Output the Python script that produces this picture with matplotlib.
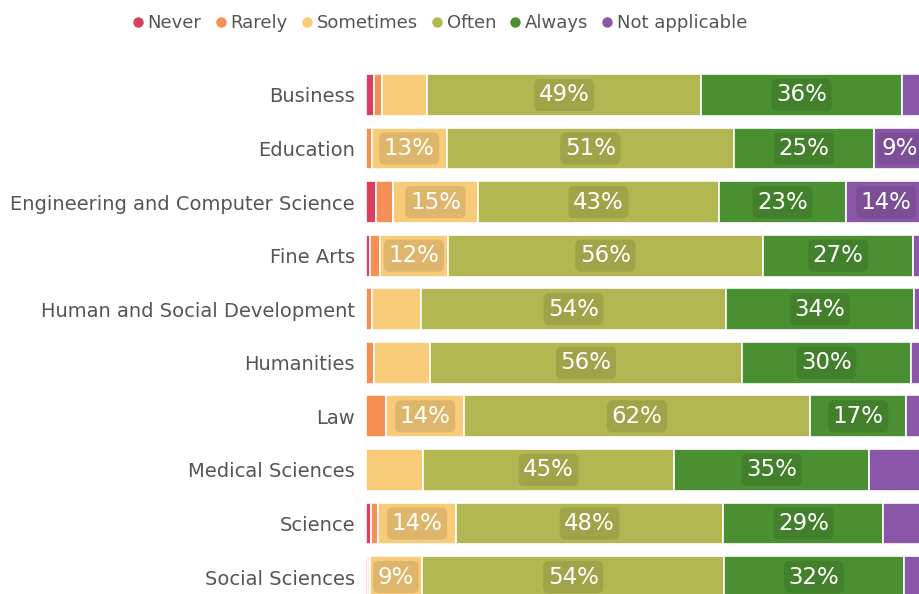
import numpy as np
import matplotlib
matplotlib.use("Agg")
import matplotlib.pyplot as plt
from matplotlib.lines import Line2D

# data (percent of respondents per faculty)
faculties = ["Business", "Education", "Engineering and Computer Science", "Fine Arts",
             "Human and Social Development", "Humanities", "Law", "Medical Sciences",
             "Science", "Social Sciences"]
answers = ["Never", "Rarely", "Sometimes", "Often", "Always", "Not applicable"]

never = [1.5, 0.0, 1.8, 0.7, 0.0, 0.0, 0.0, 0.0, 0.9, 0.4]
rarely = [1.3, 1.0, 3.0, 1.8, 1.0, 1.4, 3.6, 0.0, 1.2, 0.3]
sometimes = [8.1, 13.4, 15.2, 12.1, 8.9, 10.1, 13.9, 10.2, 14.0, 9.3]
often = [49.0, 51.3, 43.0, 56.3, 54.3, 55.6, 61.8, 44.8, 47.7, 54.0]
always = [35.8, 25.0, 22.7, 26.8, 33.6, 30.2, 17.2, 34.8, 28.6, 32.0]
not_applicable = [4.3, 9.3, 14.3, 2.3, 2.1, 2.7, 3.5, 10.0, 7.8, 3.6]

colors = ["#dc3f5e", "#f58f53", "#f8cb78", "#b2b752", "#4a8f31", "#8a57a8"]

series = [never, rarely, sometimes, often, always, not_applicable]

fig = plt.figure(figsize=(9.2, 5.94), dpi=100)
# axes runs a bit past the right edge, like the original crop
ax = fig.add_axes([366 / 920, -9.8 / 594, 560 / 920, 535.6 / 594])

y = np.arange(len(faculties))
left = np.zeros(len(faculties))
for vals, name, col in zip(series, answers, colors):
    vals = np.array(vals)
    ax.barh(y, vals, left=left, height=0.78, color=col, edgecolor="white",
            linewidth=1.2, label=name)
    for i, v in enumerate(vals):
        txt = f"{v:.0f}%"
        # only label segments wide enough to hold the label box
        need = 9.0 if len(txt) == 2 else 11.6
        if v >= need:
            ax.text(left[i] + v / 2, y[i], txt, ha="center", va="center",
                    color="white", fontsize=16.5,
                    bbox=dict(boxstyle="round,pad=0.2,rounding_size=0.25",
                              fc=(0, 0, 0, 0.1), ec="none"))
    left = left + vals

ax.set_xlim(0, 100)
ax.set_ylim(len(faculties) - 0.5, -0.5)
ax.set_yticks(y)
ax.set_yticklabels(faculties, fontsize=14, color="#555555")
ax.tick_params(axis="y", length=0, pad=8)
ax.set_xticks([])
for s in ax.spines.values():
    s.set_visible(False)

handles = [Line2D([0], [0], marker="o", linestyle="", markersize=7.5,
                  markerfacecolor=c, markeredgecolor="none") for c in colors]
fig.legend(handles, answers, loc="center", bbox_to_anchor=(440 / 920, 1 - 23 / 594),
           ncol=6, frameon=False, fontsize=13, handlelength=0.6, handletextpad=0.25,
           columnspacing=0.75, labelcolor="#555555")

fig.savefig("out.png", dpi=100)
